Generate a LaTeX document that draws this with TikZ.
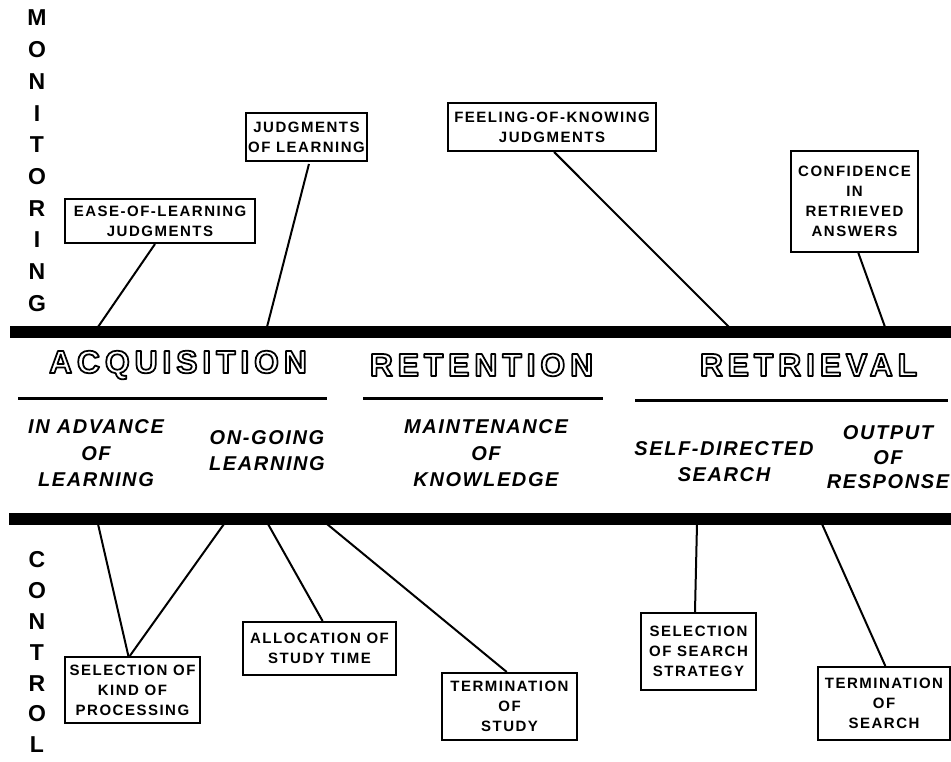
\documentclass[tikz,border=0pt]{standalone}
\usepackage{fontspec}
\usetikzlibrary{calc}
\setmainfont{Liberation Sans}
\newfontfamily\boxfont{Liberation Sans}[LetterSpace=10]
\newfontfamily\subfont{Liberation Sans}[LetterSpace=8]
\newfontfamily\headfont{Liberation Sans}[LetterSpace=15]
\newfontfamily\sidefont{Liberation Sans}
% hollow letters: stroke the glyph outlines instead of filling them
\newcommand\outlined[1]{\special{pdf:literal direct 1 Tr 1.75 w 1 j}#1\special{pdf:literal direct 0 Tr 1 w 0 j}}

\tikzset{
  labelbox/.style={draw, line width=2pt, inner sep=0pt, align=center,
    font=\boxfont\bfseries\fontsize{15}{20}\selectfont},
  link/.style={line width=2pt},
  headtxt/.style={inner sep=0pt,
    font=\headfont\bfseries\fontsize{32}{32}\selectfont},
  subtxt/.style={inner sep=0pt, align=center,
    font=\subfont\bfseries\itshape\fontsize{20}{26.5}\selectfont},
  sidetxt/.style={inner sep=0pt, font=\sidefont\bfseries\fontsize{23}{23}\selectfont},
  rule/.style={line width=3pt},
  bar/.style={fill=black}
}

\begin{document}
\begin{tikzpicture}[x=1pt,y=-1pt]
\useasboundingbox (0,0) rectangle (951,761);
\fill[white] (0,0) rectangle (951,761);

% the two thick bars
\fill[bar] (10,326) rectangle (951,338);
\fill[bar] (9,513) rectangle (951,525);

% points on the bars where the connectors meet them
\coordinate (m1) at (98,327);
\coordinate (m2) at (267,327);
\coordinate (m3) at (729,327);
\coordinate (m4) at (885,327);
\coordinate (c1) at (98,524);
\coordinate (c2) at (224,524);
\coordinate (c3) at (268,524);
\coordinate (c4) at (327,524);
\coordinate (c5) at (697,524);
\coordinate (c6) at (822,524);

% vertical side labels
\foreach \ch [count=\i from 0] in {M,O,N,I,T,O,R,I,N,G}
  \node[sidetxt] (mon\i) at (37,{18+31.7*\i}) {\ch};
\foreach \ch [count=\i from 0] in {C,O,N,T,R,O,L}
  \node[sidetxt] (ctl\i) at (37,{560+30.8*\i}) {\ch};

% monitoring boxes
\node[labelbox, minimum width=190pt, minimum height=44pt] (ease) at (160,221)
  {EASE-OF-LEARNING\\JUDGMENTS};
\node[labelbox, minimum width=121pt, minimum height=48pt] (jol) at (306.5,137)
  {JUDGMENTS\\OF LEARNING};
\node[labelbox, minimum width=208pt, minimum height=48pt] (fok) at (552,127)
  {FEELING-OF-KNOWING\\JUDGMENTS};
\node[labelbox, minimum width=127pt, minimum height=101pt] (conf) at (854.5,201.5)
  {CONFIDENCE\\IN\\RETRIEVED\\ANSWERS};

% control boxes
\node[labelbox, minimum width=135pt, minimum height=66pt] (selkind) at (132.5,690)
  {SELECTION OF\\KIND OF\\PROCESSING};
\node[labelbox, minimum width=153pt, minimum height=53pt] (alloc) at (319.5,648.5)
  {ALLOCATION OF\\STUDY TIME};
\node[labelbox, minimum width=135pt, minimum height=67pt] (termstudy) at (509.5,706.5)
  {TERMINATION\\OF\\STUDY};
\node[labelbox, minimum width=115pt, minimum height=77pt] (selsearch) at (698.5,651.5)
  {SELECTION\\OF SEARCH\\STRATEGY};
\node[labelbox, minimum width=132pt, minimum height=73pt] (termsearch) at (884,703.5)
  {TERMINATION\\OF\\SEARCH};

% stage headings
\node[headtxt] (acq) at (178,365) {\outlined{ACQUISITION}};
\node[headtxt] (ret) at (481.5,365) {\outlined{RETENTION}};
\node[headtxt] (retr) at (808.5,365) {\outlined{RETRIEVAL}};
\draw[rule] (18,398) -- (327,398);
\draw[rule] (363,398) -- (603,398);
\draw[rule] (635,400) -- (948,400);

% sub-stages
\node[subtxt] (adv) at (96,453.5) {IN ADVANCE\\OF\\LEARNING};
\node[subtxt] (ongo) at (267,450.5) {ON-GOING\\LEARNING};
\node[subtxt] (maint) at (486,453.5) {MAINTENANCE\\OF\\KNOWLEDGE};
\node[subtxt] (selfdir) at (724,461.5) {SELF-DIRECTED\\SEARCH};
\node[subtxt, font=\subfont\bfseries\itshape\fontsize{20}{24.5}\selectfont] (output) at (888,457.5)
  {OUTPUT\\OF\\RESPONSE};

% connectors to the monitoring bar
\draw[link] ($(ease.south west)!0.474!(ease.south east)$) -- (m1);
\draw[link] ($(jol.south west)!0.52!(jol.south east)$) ++(0,2) -- (m2);
\draw[link] ($(fok.south west)!0.51!(fok.south east)$) -- (m3);
\draw[link] ($(conf.south west)!0.53!(conf.south east)$) -- (m4);

% connectors to the control bar
\draw[link] (c1) -- ($(selkind.north west)!0.47!(selkind.north east)$);
\draw[link] (c2) -- ($(selkind.north west)!0.48!(selkind.north east)$);
\draw[link] (c3) -- ($(alloc.north west)!0.52!(alloc.north east)$);
\draw[link] (c4) -- ($(termstudy.north west)!0.48!(termstudy.north east)$);
\draw[link] (c5) -- ($(selsearch.north west)!0.47!(selsearch.north east)$);
\draw[link] (c6) -- ($(termsearch.north west)!0.51!(termsearch.north east)$);
\end{tikzpicture}
\end{document}
